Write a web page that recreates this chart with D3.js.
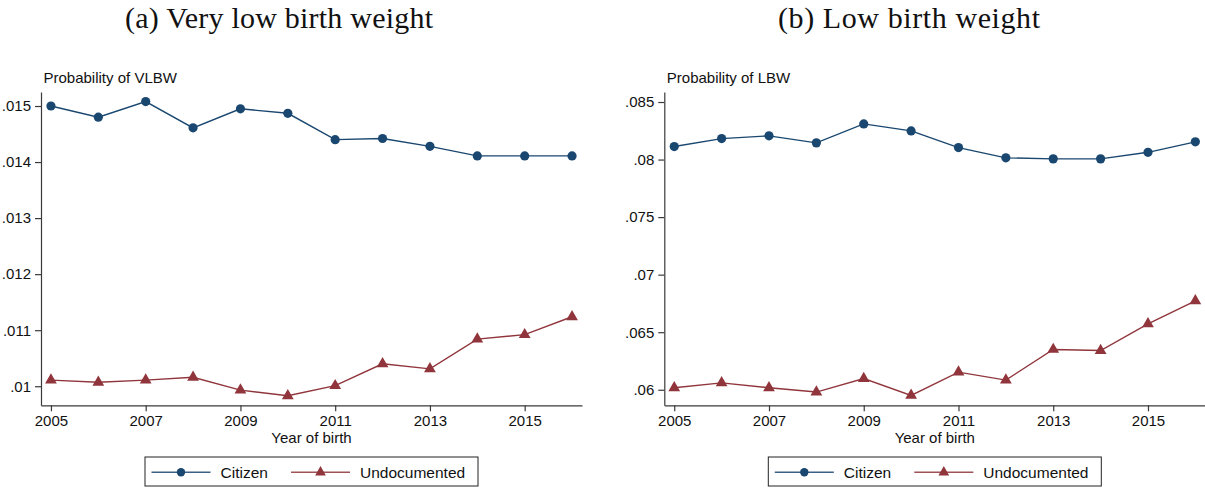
<!DOCTYPE html>
<html>
<head>
<meta charset="utf-8">
<script src="https://cdn.jsdelivr.net/npm/d3@7/dist/d3.min.js"></script>
<style>
  html, body { margin: 0; padding: 0; background: #fff; }
  svg { display: block; }
  .axis text { font-family: "Liberation Sans", Arial, sans-serif; font-size: 15px; fill: #111; }
  .axis path, .axis line { stroke: #3a3a3a; stroke-width: 1.2; }
</style>
</head>
<body>
<svg id="chart" width="1205" height="489"></svg>
<script>
// Birth years on the x axis
const years = [2005, 2006, 2007, 2008, 2009, 2010, 2011, 2012, 2013, 2014, 2015, 2016];
const yearTicks = [2005, 2007, 2009, 2011, 2013, 2015];

// Panel (a): probability of very low birth weight
const vlbwCitizen      = [0.01500, 0.01480, 0.01508, 0.01461, 0.01495, 0.01487, 0.01440, 0.01442, 0.01428, 0.01411, 0.01411, 0.01411];
const vlbwUndocumented = [0.01011, 0.01007, 0.01011, 0.01016, 0.00993, 0.00983, 0.01001, 0.01040, 0.01031, 0.01084, 0.01092, 0.01124];
const vlbwTicks  = [0.010, 0.011, 0.012, 0.013, 0.014, 0.015];
const vlbwLabels = [".01", ".011", ".012", ".013", ".014", ".015"];

// Panel (b): probability of low birth weight
const lbwCitizen      = [0.08113, 0.08182, 0.08206, 0.08145, 0.08310, 0.08249, 0.08104, 0.08015, 0.08006, 0.08006, 0.08063, 0.08154];
const lbwUndocumented = [0.06017, 0.06060, 0.06017, 0.05980, 0.06098, 0.05951, 0.06153, 0.06084, 0.06350, 0.06341, 0.06573, 0.06773];
const lbwTicks  = [0.060, 0.065, 0.070, 0.075, 0.080, 0.085];
const lbwLabels = [".06", ".065", ".07", ".075", ".08", ".085"];

const seriesNames = ["Citizen", "Undocumented"];
const colors = { Citizen: "#1a476f", Undocumented: "#90353b" };

const svg = d3.select("#chart");
const triangle = d3.symbol().type(d3.symbolTriangle).size(60);

function drawPanel(cfg) {
  const g = svg.append("g");
  const x = d3.scaleLinear().domain([2004.79, 2016.21]).range([cfg.left, cfg.left + 541]);
  const y = d3.scaleLinear().domain(cfg.yDomain).range([405.3, 92]);

  // panel title
  g.append("text")
    .attr("x", cfg.titleX).attr("y", 28)
    .attr("text-anchor", "middle")
    .style("font-family", "'Liberation Serif', 'Times New Roman', serif")
    .style("font-size", "30px")
    .style("fill", "#111")
    .attr("textLength", cfg.titleLen).attr("lengthAdjust", "spacing")
    .text(cfg.title);

  // y axis title
  g.append("text")
    .attr("x", cfg.left + 2.5).attr("y", 83)
    .style("font-family", "'Liberation Sans', Arial, sans-serif")
    .style("font-size", "15px").style("fill", "#111")
    .text(cfg.yTitle);

  g.append("g").attr("class", "axis")
    .attr("transform", `translate(${cfg.left},0)`)
    .call(d3.axisLeft(y).tickValues(cfg.ticks)
      .tickFormat((d, i) => cfg.labels[i]).tickSize(6).tickSizeOuter(0).tickPadding(4));

  g.append("g").attr("class", "axis")
    .attr("transform", "translate(0,405.3)")
    .call(d3.axisBottom(x).tickValues(yearTicks)
      .tickFormat(d3.format("d")).tickSize(6).tickSizeOuter(0).tickPadding(4));

  g.append("text")
    .attr("x", cfg.left + 270.5).attr("y", 443)
    .attr("text-anchor", "middle")
    .style("font-family", "'Liberation Sans', Arial, sans-serif")
    .style("font-size", "15px").style("fill", "#111")
    .text("Year of birth");

  const line = d3.line().x((d, i) => x(years[i])).y(d => y(d));

  [[cfg.citizen, "Citizen"], [cfg.undoc, "Undocumented"]].forEach(([vals, name]) => {
    g.append("path").datum(vals)
      .attr("d", line).attr("fill", "none")
      .attr("stroke", colors[name]).attr("stroke-width", 1.4);
    const pts = g.append("g").selectAll("g").data(vals).enter();
    if (name === "Citizen") {
      pts.append("circle")
        .attr("cx", (d, i) => x(years[i])).attr("cy", d => y(d))
        .attr("r", 4.6).attr("fill", colors[name]);
    } else {
      pts.append("path")
        .attr("d", triangle)
        .attr("transform", (d, i) => `translate(${x(years[i])},${y(d)})`)
        .attr("fill", colors[name]);
    }
  });

  // legend
  const lg = g.append("g").attr("transform", `translate(${cfg.left + 104},457)`);
  lg.append("rect").attr("width", 333).attr("height", 29)
    .attr("fill", "#fff").attr("stroke", "#222").attr("stroke-width", 1);
  const items = [
    { name: seriesNames[0], x0: 6.5, tx: 75.5 },
    { name: seriesNames[1], x0: 146, tx: 215 }
  ];
  items.forEach(it => {
    lg.append("line").attr("x1", it.x0).attr("x2", it.x0 + 59)
      .attr("y1", 15.3).attr("y2", 15.3)
      .attr("stroke", colors[it.name]).attr("stroke-width", 1.4).attr("opacity", 0.85);
    if (it.name === "Citizen") {
      lg.append("circle").attr("cx", it.x0 + 29.5).attr("cy", 15.3).attr("r", 4.2)
        .attr("fill", colors[it.name]);
    } else {
      lg.append("path").attr("d", d3.symbol().type(d3.symbolTriangle).size(50))
        .attr("transform", `translate(${it.x0 + 29.5},15.3)`)
        .attr("fill", colors[it.name]);
    }
    lg.append("text").attr("x", it.tx).attr("y", 20.5)
      .style("font-family", "'Liberation Sans', Arial, sans-serif")
      .style("font-size", "15.5px").style("fill", "#111")
      .text(it.name);
  });
}

drawPanel({
  left: 41, title: "(a) Very low birth weight", titleX: 279, titleLen: 308,
  yTitle: "Probability of VLBW", yDomain: [0.00966, 0.01525],
  ticks: vlbwTicks, labels: vlbwLabels, citizen: vlbwCitizen, undoc: vlbwUndocumented
});
drawPanel({
  left: 664.3, title: "(b) Low birth weight", titleX: 909, titleLen: 262,
  yTitle: "Probability of LBW", yDomain: [0.05865, 0.08587],
  ticks: lbwTicks, labels: lbwLabels, citizen: lbwCitizen, undoc: lbwUndocumented
});
</script>
</body>
</html>
